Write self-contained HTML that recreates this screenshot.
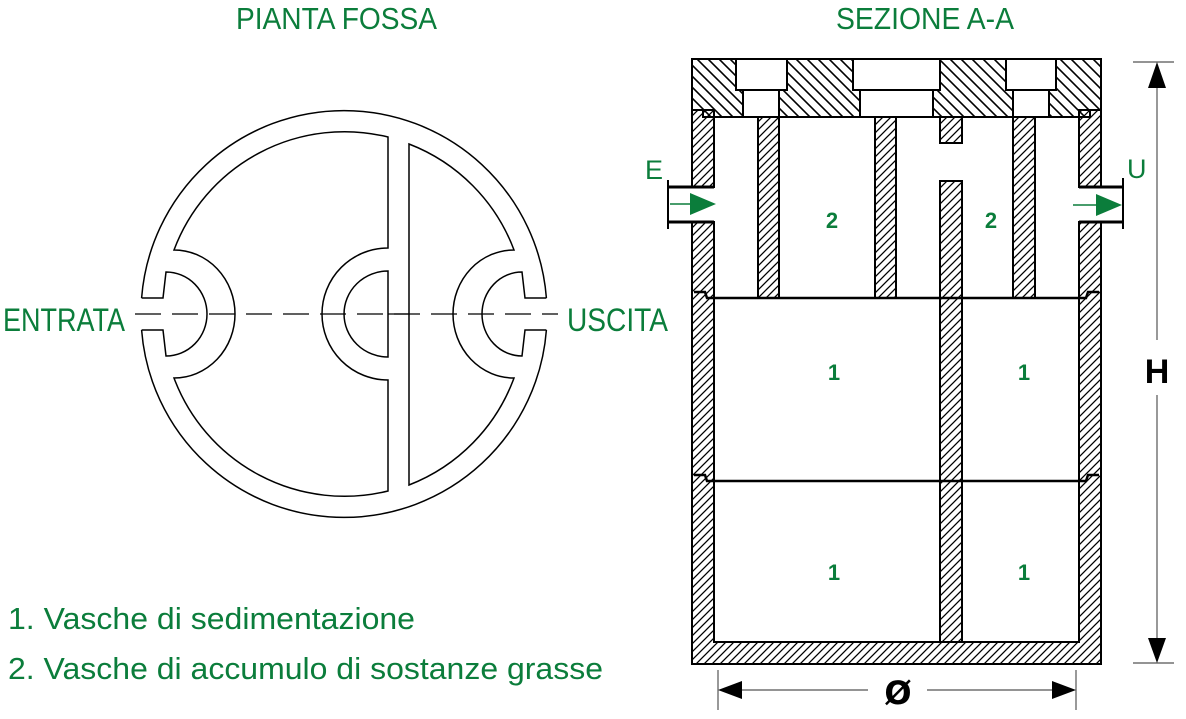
<!DOCTYPE html>
<html><head><meta charset="utf-8"><style>
html,body{margin:0;padding:0;background:#fff;}
svg{display:block;}
.g{fill:#0b7d3b;font-family:"Liberation Sans",sans-serif;}
</style></head><body>
<svg width="1186" height="719" viewBox="0 0 1186 719" xmlns="http://www.w3.org/2000/svg">
<defs>
<pattern id="h1" patternUnits="userSpaceOnUse" width="8" height="8">
<path d="M-2,10 L10,-2 M-2,2 L2,-2 M6,10 L10,6" stroke="#000" stroke-width="1.3"/>
</pattern>
<pattern id="h2" patternUnits="userSpaceOnUse" width="11" height="11">
<path d="M-2,-2 L13,13 M-2,9 L2,13 M9,-2 L13,2" stroke="#000" stroke-width="1.6"/>
</pattern>
</defs>

<text class="g" x="236" y="29" font-size="31" textLength="201" lengthAdjust="spacingAndGlyphs">PIANTA FOSSA</text>
<text class="g" x="836" y="29" font-size="31" textLength="178" lengthAdjust="spacingAndGlyphs">SEZIONE A-A</text>
<text class="g" x="3" y="331" font-size="32" textLength="122" lengthAdjust="spacingAndGlyphs">ENTRATA</text>
<text class="g" x="567" y="331" font-size="32" textLength="101" lengthAdjust="spacingAndGlyphs">USCITA</text>
<text class="g" x="8" y="629" font-size="31" textLength="407" lengthAdjust="spacingAndGlyphs">1. Vasche di sedimentazione</text>
<text class="g" x="8" y="679" font-size="31" textLength="595" lengthAdjust="spacingAndGlyphs">2. Vasche di accumulo di sostanze grasse</text>

<!-- PLAN -->
<g fill="none" stroke="#000" stroke-width="1.5">
<path d="M141.6,298 A203,203 0 0 1 546.4,298"/>
<path d="M141.6,330 A203,203 0 0 0 546.4,330"/>
<path d="M141.6,298 L163,298 L166,272 A41,42 0 0 1 166,356 L163,330 L141.6,330"/>
<path d="M546.4,298 L525,298 L522,272 A40,42 0 0 0 522,356 L525,330 L546.4,330"/>
<path d="M388,248 L388,137 A182,182 0 0 0 174,250 A61,64 0 0 1 174,378 A182,182 0 0 0 388,491 L388,380 A66,66 0 0 1 388,248 Z"/>
<path d="M388,271 A44,43 0 0 0 388,357 Z"/>
<path d="M409,144 A182,182 0 0 1 514,250 A61,64 0 0 0 514,378 A182,182 0 0 1 409,485 Z"/>
</g>
<line x1="135" y1="314" x2="558" y2="314" stroke="#000" stroke-width="1.2" stroke-dasharray="26,11"/>
<line x1="388" y1="314" x2="409" y2="314" stroke="#000" stroke-width="1.2"/>

<!-- SECTION -->
<path d="M692,110 L692,664 L1101,664 L1101,110 L1079,110 L1079,642 L714,642 L714,110 Z" fill="url(#h1)" stroke="#000" stroke-width="2" stroke-linejoin="miter"/>
<rect x="690" y="188" width="26" height="33" fill="#fff"/>
<rect x="1077" y="188" width="26" height="33" fill="#fff"/>
<g stroke="#000" stroke-width="2" fill="url(#h1)">
<rect x="758" y="117" width="21" height="181"/>
<rect x="875" y="117" width="21" height="181"/>
<rect x="1013" y="117" width="22" height="181"/>
<rect x="940" y="117" width="22" height="26"/>
<rect x="940" y="181" width="22" height="461"/>
</g>
<path d="M692,59 L1101,59 L1101,110 L1090,110 L1090,117 L703,117 L703,110 L692,110 Z" fill="url(#h2)" stroke="#000" stroke-width="2"/>
<g fill="#fff" stroke="#000" stroke-width="2">
<rect x="736" y="59" width="51" height="31"/>
<rect x="743" y="90" width="36" height="27"/>
<rect x="853" y="59" width="87" height="31"/>
<rect x="860" y="90" width="73" height="27"/>
<rect x="1006" y="59" width="50" height="31"/>
<rect x="1013" y="90" width="36" height="27"/>
</g>
<g fill="none" stroke="#000" stroke-width="2.5">
<path d="M694,292 L705,292 L707,298 L1086,298 L1088,292 L1099,292"/>
<path d="M694,475 L705,475 L707,481 L1086,481 L1088,475 L1099,475"/>
</g>
<g stroke="#000" stroke-width="3" fill="none">
<path d="M668,187 L714,187 M668,222 L714,222"/>
<path d="M668,180 L668,229" stroke-width="2"/>
<path d="M1079,187 L1123,187 M1079,222 L1123,222"/>
<path d="M1123,178 L1123,229" stroke-width="2"/>
</g>
<g fill="#0b7d3b" stroke="#0b7d3b">
<line x1="670" y1="204" x2="692" y2="204" stroke-width="1.5"/>
<polygon points="690,193 716,204 690,215" stroke="none"/>
<line x1="1073" y1="205" x2="1098" y2="205" stroke-width="1.5"/>
<polygon points="1096,194 1122,205 1096,216" stroke="none"/>
</g>
<text class="g" x="645" y="179" font-size="27">E</text>
<text class="g" x="1127" y="178" font-size="27">U</text>
<g class="g" font-size="22" font-weight="bold" text-anchor="middle">
<text x="832" y="228">2</text>
<text x="991" y="228">2</text>
<text x="834" y="380">1</text>
<text x="1024" y="380">1</text>
<text x="834" y="580">1</text>
<text x="1024" y="580">1</text>
</g>
<g stroke="#555" stroke-width="1.2">
<line x1="1133" y1="62" x2="1174" y2="62"/>
<line x1="1133" y1="663" x2="1174" y2="663"/>
<line x1="1157" y1="80" x2="1157" y2="340"/>
<line x1="1157" y1="395" x2="1157" y2="645"/>
</g>
<polygon points="1157,62 1148,88 1166,88" fill="#000"/>
<polygon points="1157,663 1148,638 1166,638" fill="#000"/>
<text x="1157" y="383" font-size="34" font-weight="bold" text-anchor="middle" font-family="Liberation Sans,sans-serif">H</text>
<g stroke="#555" stroke-width="1.2">
<line x1="718" y1="670" x2="718" y2="710"/>
<line x1="1076" y1="670" x2="1076" y2="710"/>
<line x1="735" y1="690" x2="868" y2="690"/>
<line x1="927" y1="690" x2="1060" y2="690"/>
</g>
<polygon points="718,690 742,681 742,699" fill="#000"/>
<polygon points="1076,690 1052,681 1052,699" fill="#000"/>
<text x="898" y="704" font-size="32" font-weight="bold" text-anchor="middle" font-family="DejaVu Sans,Liberation Sans,sans-serif">Ø</text>
</svg>
</body></html>
